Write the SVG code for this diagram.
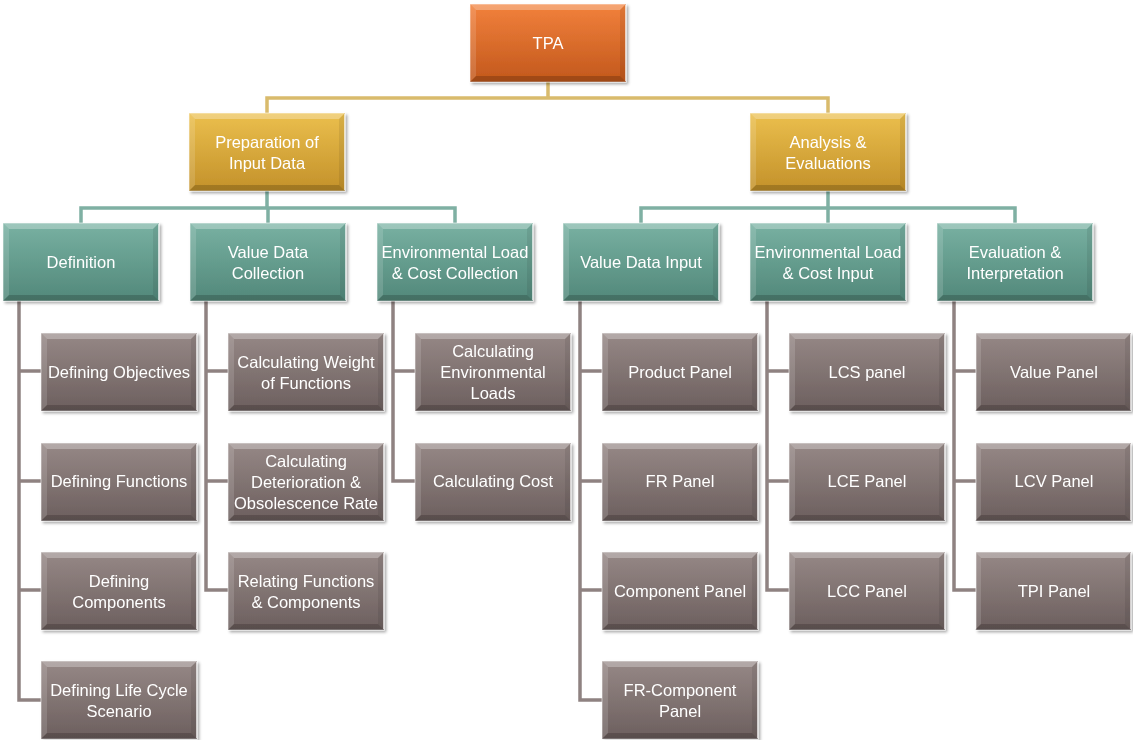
<svg xmlns="http://www.w3.org/2000/svg" xmlns:xlink="http://www.w3.org/1999/xlink" width="1133" height="740" viewBox="0 0 1133 740">
  <style>
    .lbl { font-family: "Liberation Sans", Arial, sans-serif; font-size: 16.5px; fill: #ffffff; text-anchor: middle; }
    .edge { fill: none; stroke-width: 3.5; stroke-linejoin: miter; }
    .gold { stroke: #d9bb6c; }
    .teal { stroke: #7fb0a3; }
    .grey { stroke: #8f8281; }
    .box { stroke: rgba(255,255,255,0.55); stroke-width: 1; }
  </style>
  <defs>
    <linearGradient id="gOrange" x1="0" y1="0" x2="0" y2="1">
      <stop offset="0" stop-color="#f2813c"/>
      <stop offset="1" stop-color="#c2581c"/>
    </linearGradient>
    <linearGradient id="gGold" x1="0" y1="0" x2="0" y2="1">
      <stop offset="0" stop-color="#ebbf4d"/>
      <stop offset="1" stop-color="#c3912a"/>
    </linearGradient>
    <linearGradient id="gTeal" x1="0" y1="0" x2="0" y2="1">
      <stop offset="0" stop-color="#78b1a2"/>
      <stop offset="1" stop-color="#52887a"/>
    </linearGradient>
    <linearGradient id="gGrey" x1="0" y1="0" x2="0" y2="1">
      <stop offset="0" stop-color="#968886"/>
      <stop offset="1" stop-color="#6c5f5e"/>
    </linearGradient>
    <filter id="shadow" x="-10%" y="-10%" width="125%" height="130%">
      <feGaussianBlur in="SourceAlpha" stdDeviation="1.5"/>
      <feOffset dx="1.5" dy="2" result="b"/>
      <feComponentTransfer><feFuncA type="linear" slope="0.35"/></feComponentTransfer>
      <feMerge><feMergeNode/><feMergeNode in="SourceGraphic"/></feMerge>
    </filter>
    <!-- bevelled edges laid over every box -->
    <g id="bevel">
      <polygon points="0,0 156,0 150,6 6,6" fill="#ffffff" fill-opacity="0.28"/>
      <polygon points="0,0 6,6 6,72 0,78" fill="#ffffff" fill-opacity="0.14"/>
      <polygon points="156,0 156,78 150,72 150,6" fill="#000000" fill-opacity="0.08"/>
      <polygon points="0,78 6,72 150,72 156,78" fill="#000000" fill-opacity="0.18"/>
      <line x1="155.5" y1="1" x2="155.5" y2="77" stroke="#ffffff" stroke-opacity="0.6"/>
    </g>
  </defs>

  <!-- connectors -->
  <g id="connectors">
    <path class="edge gold" d="M548 82 V98 M267 113 V98 H828 V113"/>
    <path class="edge teal" d="M267 191 V208 M81 223 V208 H455 V223 M268 208 V223"/>
    <path class="edge teal" d="M828 191 V208 M641 223 V208 H1015 V223 M828 208 V223"/>
    <path class="edge grey" d="M19 301 V700 H41 M19 371 H41 M19 481 H41 M19 590 H41"/>
    <path class="edge grey" d="M206 301 V590 H228 M206 371 H228 M206 481 H228"/>
    <path class="edge grey" d="M393 301 V481 H415 M393 371 H415"/>
    <path class="edge grey" d="M580 301 V700 H602 M580 371 H602 M580 481 H602 M580 590 H602"/>
    <path class="edge grey" d="M767 301 V590 H789 M767 371 H789 M767 481 H789"/>
    <path class="edge grey" d="M954 301 V590 H976 M954 371 H976 M954 481 H976"/>
  </g>

  <!-- root -->
  <g id="tpa" filter="url(#shadow)">
    <rect class="box" x="470" y="4" width="156" height="78" fill="url(#gOrange)"/>
    <use xlink:href="#bevel" x="470" y="4"/>
    <text class="lbl" x="548" y="49">TPA</text>
  </g>

  <!-- second level -->
  <g id="preparation" filter="url(#shadow)">
    <rect class="box" x="189" y="113" width="156" height="78" fill="url(#gGold)"/>
    <use xlink:href="#bevel" x="189" y="113"/>
    <text class="lbl" x="267" y="148">Preparation of</text>
    <text class="lbl" x="267" y="169">Input Data</text>
  </g>
  <g id="analysis" filter="url(#shadow)">
    <rect class="box" x="750" y="113" width="156" height="78" fill="url(#gGold)"/>
    <use xlink:href="#bevel" x="750" y="113"/>
    <text class="lbl" x="828" y="148">Analysis &amp;</text>
    <text class="lbl" x="828" y="169">Evaluations</text>
  </g>

  <!-- third level -->
  <g id="definition" filter="url(#shadow)">
    <rect class="box" x="3" y="223" width="156" height="78" fill="url(#gTeal)"/>
    <use xlink:href="#bevel" x="3" y="223"/>
    <text class="lbl" x="81" y="268">Definition</text>
  </g>
  <g id="value-data-collection" filter="url(#shadow)">
    <rect class="box" x="190" y="223" width="156" height="78" fill="url(#gTeal)"/>
    <use xlink:href="#bevel" x="190" y="223"/>
    <text class="lbl" x="268" y="258">Value Data</text>
    <text class="lbl" x="268" y="279">Collection</text>
  </g>
  <g id="env-cost-collection" filter="url(#shadow)">
    <rect class="box" x="377" y="223" width="156" height="78" fill="url(#gTeal)"/>
    <use xlink:href="#bevel" x="377" y="223"/>
    <text class="lbl" x="455" y="258">Environmental Load</text>
    <text class="lbl" x="455" y="279">&amp; Cost Collection</text>
  </g>
  <g id="value-data-input" filter="url(#shadow)">
    <rect class="box" x="563" y="223" width="156" height="78" fill="url(#gTeal)"/>
    <use xlink:href="#bevel" x="563" y="223"/>
    <text class="lbl" x="641" y="268">Value Data Input</text>
  </g>
  <g id="env-cost-input" filter="url(#shadow)">
    <rect class="box" x="750" y="223" width="156" height="78" fill="url(#gTeal)"/>
    <use xlink:href="#bevel" x="750" y="223"/>
    <text class="lbl" x="828" y="258">Environmental Load</text>
    <text class="lbl" x="828" y="279">&amp; Cost Input</text>
  </g>
  <g id="evaluation" filter="url(#shadow)">
    <rect class="box" x="937" y="223" width="156" height="78" fill="url(#gTeal)"/>
    <use xlink:href="#bevel" x="937" y="223"/>
    <text class="lbl" x="1015" y="258">Evaluation &amp;</text>
    <text class="lbl" x="1015" y="279">Interpretation</text>
  </g>

  <!-- leaves: Definition -->
  <g id="defining-objectives" filter="url(#shadow)">
    <rect class="box" x="41" y="333" width="156" height="78" fill="url(#gGrey)"/>
    <use xlink:href="#bevel" x="41" y="333"/>
    <text class="lbl" x="119" y="378">Defining Objectives</text>
  </g>
  <g id="defining-functions" filter="url(#shadow)">
    <rect class="box" x="41" y="443" width="156" height="78" fill="url(#gGrey)"/>
    <use xlink:href="#bevel" x="41" y="443"/>
    <text class="lbl" x="119" y="487">Defining Functions</text>
  </g>
  <g id="defining-components" filter="url(#shadow)">
    <rect class="box" x="41" y="552" width="156" height="78" fill="url(#gGrey)"/>
    <use xlink:href="#bevel" x="41" y="552"/>
    <text class="lbl" x="119" y="587">Defining</text>
    <text class="lbl" x="119" y="608">Components</text>
  </g>
  <g id="defining-life-cycle" filter="url(#shadow)">
    <rect class="box" x="41" y="661" width="156" height="78" fill="url(#gGrey)"/>
    <use xlink:href="#bevel" x="41" y="661"/>
    <text class="lbl" x="119" y="696">Defining Life Cycle</text>
    <text class="lbl" x="119" y="717">Scenario</text>
  </g>

  <!-- leaves: Value Data Collection -->
  <g id="calc-weight" filter="url(#shadow)">
    <rect class="box" x="228" y="333" width="156" height="78" fill="url(#gGrey)"/>
    <use xlink:href="#bevel" x="228" y="333"/>
    <text class="lbl" x="306" y="368">Calculating Weight</text>
    <text class="lbl" x="306" y="389">of Functions</text>
  </g>
  <g id="calc-deterioration" filter="url(#shadow)">
    <rect class="box" x="228" y="443" width="156" height="78" fill="url(#gGrey)"/>
    <use xlink:href="#bevel" x="228" y="443"/>
    <text class="lbl" x="306" y="467">Calculating</text>
    <text class="lbl" x="306" y="488">Deterioration &amp;</text>
    <text class="lbl" x="306" y="509">Obsolescence Rate</text>
  </g>
  <g id="relating-functions" filter="url(#shadow)">
    <rect class="box" x="228" y="552" width="156" height="78" fill="url(#gGrey)"/>
    <use xlink:href="#bevel" x="228" y="552"/>
    <text class="lbl" x="306" y="587">Relating Functions</text>
    <text class="lbl" x="306" y="608">&amp; Components</text>
  </g>

  <!-- leaves: Environmental Load & Cost Collection -->
  <g id="calc-env-loads" filter="url(#shadow)">
    <rect class="box" x="415" y="333" width="156" height="78" fill="url(#gGrey)"/>
    <use xlink:href="#bevel" x="415" y="333"/>
    <text class="lbl" x="493" y="357">Calculating</text>
    <text class="lbl" x="493" y="378">Environmental</text>
    <text class="lbl" x="493" y="399">Loads</text>
  </g>
  <g id="calc-cost" filter="url(#shadow)">
    <rect class="box" x="415" y="443" width="156" height="78" fill="url(#gGrey)"/>
    <use xlink:href="#bevel" x="415" y="443"/>
    <text class="lbl" x="493" y="487">Calculating Cost</text>
  </g>

  <!-- leaves: Value Data Input -->
  <g id="product-panel" filter="url(#shadow)">
    <rect class="box" x="602" y="333" width="156" height="78" fill="url(#gGrey)"/>
    <use xlink:href="#bevel" x="602" y="333"/>
    <text class="lbl" x="680" y="378">Product Panel</text>
  </g>
  <g id="fr-panel" filter="url(#shadow)">
    <rect class="box" x="602" y="443" width="156" height="78" fill="url(#gGrey)"/>
    <use xlink:href="#bevel" x="602" y="443"/>
    <text class="lbl" x="680" y="487">FR Panel</text>
  </g>
  <g id="component-panel" filter="url(#shadow)">
    <rect class="box" x="602" y="552" width="156" height="78" fill="url(#gGrey)"/>
    <use xlink:href="#bevel" x="602" y="552"/>
    <text class="lbl" x="680" y="597">Component Panel</text>
  </g>
  <g id="fr-component-panel" filter="url(#shadow)">
    <rect class="box" x="602" y="661" width="156" height="78" fill="url(#gGrey)"/>
    <use xlink:href="#bevel" x="602" y="661"/>
    <text class="lbl" x="680" y="696">FR-Component</text>
    <text class="lbl" x="680" y="717">Panel</text>
  </g>

  <!-- leaves: Environmental Load & Cost Input -->
  <g id="lcs-panel" filter="url(#shadow)">
    <rect class="box" x="789" y="333" width="156" height="78" fill="url(#gGrey)"/>
    <use xlink:href="#bevel" x="789" y="333"/>
    <text class="lbl" x="867" y="378">LCS panel</text>
  </g>
  <g id="lce-panel" filter="url(#shadow)">
    <rect class="box" x="789" y="443" width="156" height="78" fill="url(#gGrey)"/>
    <use xlink:href="#bevel" x="789" y="443"/>
    <text class="lbl" x="867" y="487">LCE Panel</text>
  </g>
  <g id="lcc-panel" filter="url(#shadow)">
    <rect class="box" x="789" y="552" width="156" height="78" fill="url(#gGrey)"/>
    <use xlink:href="#bevel" x="789" y="552"/>
    <text class="lbl" x="867" y="597">LCC Panel</text>
  </g>

  <!-- leaves: Evaluation & Interpretation -->
  <g id="value-panel" filter="url(#shadow)">
    <rect class="box" x="976" y="333" width="155" height="78" fill="url(#gGrey)"/>
    <use xlink:href="#bevel" x="975" y="333"/>
    <text class="lbl" x="1054" y="378">Value Panel</text>
  </g>
  <g id="lcv-panel" filter="url(#shadow)">
    <rect class="box" x="976" y="443" width="155" height="78" fill="url(#gGrey)"/>
    <use xlink:href="#bevel" x="975" y="443"/>
    <text class="lbl" x="1054" y="487">LCV Panel</text>
  </g>
  <g id="tpi-panel" filter="url(#shadow)">
    <rect class="box" x="976" y="552" width="155" height="78" fill="url(#gGrey)"/>
    <use xlink:href="#bevel" x="975" y="552"/>
    <text class="lbl" x="1054" y="597">TPI Panel</text>
  </g>
</svg>
